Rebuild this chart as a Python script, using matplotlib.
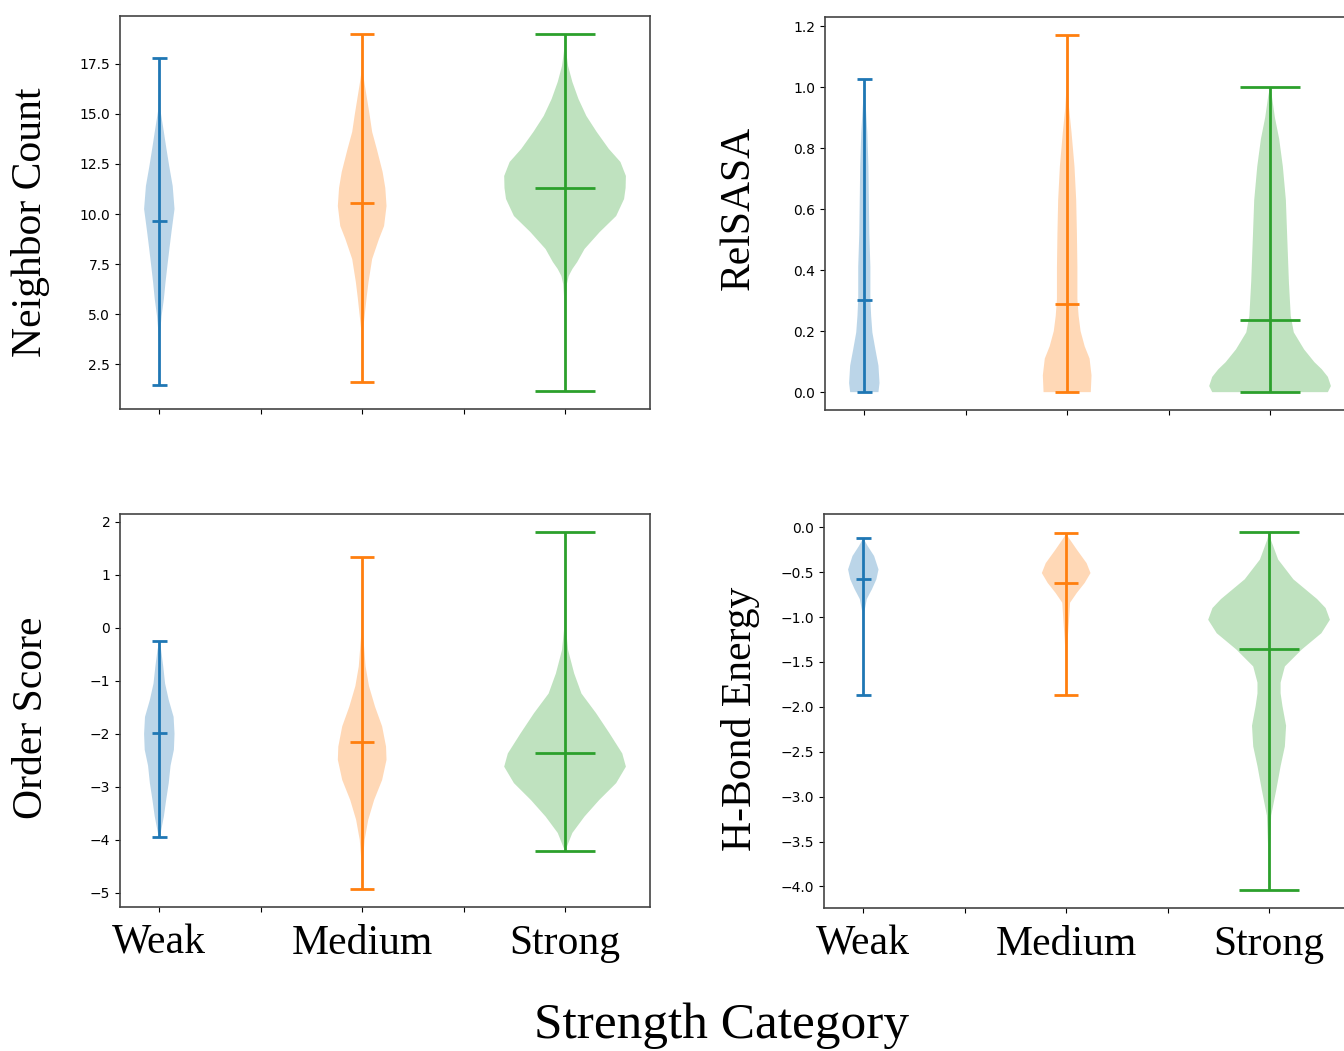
import matplotlib
matplotlib.use('Agg')
import matplotlib.pyplot as plt
import numpy as np

# data
categories = ['Weak', 'Medium', 'Strong']
positions = [1, 2, 3]
widths = [0.15, 0.24, 0.6]
colors = ['#1f77b4', '#ff7f0e', '#2ca02c']

# Neighbor Count
nc_min = [1.45, 1.62, 1.15]
nc_max = [17.8, 19.0, 19.0]
nc_mean = [9.63, 10.53, 11.32]
nc_weak_y = [1.45, 2.5, 3.5, 4.1, 4.9, 5.75, 6.6, 7.4, 8.3, 9.1, 10.25, 11.4, 12.4, 13.3, 14.1, 15.25, 16.5, 17.8]
nc_weak_w = [0, 0.005, 0.02, 0.06, 0.15, 0.3, 0.41, 0.53, 0.67, 0.8, 1.0, 0.88, 0.65, 0.46, 0.3, 0.06, 0.01, 0]
nc_med_y = [1.62, 3.0, 4.1, 4.9, 5.8, 6.6, 7.75, 8.75, 9.4, 10.4, 11.3, 12.1, 13.25, 14.1, 15.0, 15.75, 16.5, 17.1, 18.2, 19.0]
nc_med_w = [0, 0.01, 0.03, 0.1, 0.18, 0.26, 0.41, 0.69, 0.9, 1.0, 0.95, 0.84, 0.6, 0.41, 0.3, 0.2, 0.1, 0.03, 0.005, 0]
nc_str_y = [1.15, 3.0, 4.5, 5.75, 6.5, 6.9, 7.25, 7.6, 8.25, 9.1, 9.9, 10.75, 11.3, 11.9, 12.6, 13.25, 14.1, 14.9, 15.75, 16.6, 17.4, 18.3, 19.0]
nc_str_w = [0, 0.003, 0.007, 0.014, 0.03, 0.06, 0.12, 0.2, 0.32, 0.57, 0.84, 0.97, 0.995, 1.0, 0.91, 0.72, 0.52, 0.35, 0.22, 0.12, 0.05, 0.01, 0]

# RelSASA
rs_min = [0.0, 0.0, 0.0]
rs_max = [1.027, 1.171, 1.0]
rs_mean = [0.302, 0.289, 0.2375]
rs_weak_y = [0, 0.03, 0.087, 0.14, 0.196, 0.25, 0.305, 0.41, 0.52, 0.63, 0.74, 0.85, 0.96, 1.027]
rs_weak_w = [0.93, 1.0, 0.93, 0.73, 0.53, 0.45, 0.4, 0.4, 0.33, 0.3, 0.27, 0.2, 0.07, 0.0]
rs_med_y = [0, 0.055, 0.11, 0.15, 0.2, 0.25, 0.305, 0.41, 0.52, 0.63, 0.74, 0.85, 0.93, 1.01, 1.171]
rs_med_w = [0.97, 1.0, 0.92, 0.72, 0.55, 0.47, 0.42, 0.42, 0.4, 0.37, 0.3, 0.18, 0.08, 0.02, 0.0]
rs_str_y = [0, 0.02, 0.05, 0.075, 0.098, 0.14, 0.196, 0.25, 0.36, 0.52, 0.63, 0.74, 0.83, 0.9, 0.97, 1.0]
rs_str_w = [0.95, 1.0, 0.95, 0.85, 0.73, 0.56, 0.39, 0.34, 0.31, 0.28, 0.26, 0.21, 0.15, 0.08, 0.03, 0.0]

# Order Score
os_min = [-3.94, -4.93, -4.21]
os_max = [-0.245, 1.33, 1.81]
os_mean = [-1.99, -2.15, -2.37]
os_weak_y = [-3.94, -3.87, -3.56, -3.25, -2.93, -2.6, -2.3, -2.0, -1.68, -1.36, -1.05, -0.73, -0.42, -0.245]
os_weak_w = [0, 0.09, 0.3, 0.45, 0.62, 0.74, 0.96, 1.0, 0.94, 0.62, 0.38, 0.26, 0.12, 0]
os_med_y = [-4.93, -4.38, -4.0, -3.62, -3.25, -2.87, -2.49, -2.24, -1.86, -1.49, -1.1, -0.73, -0.1, 0.5, 1.33]
os_med_w = [0, 0.035, 0.1, 0.25, 0.49, 0.82, 1.0, 0.98, 0.82, 0.53, 0.28, 0.14, 0.035, 0.01, 0]
os_str_y = [-4.21, -4.13, -3.87, -3.56, -3.25, -2.93, -2.62, -2.37, -1.99, -1.61, -1.24, -0.86, -0.42, 0.0, 0.8, 1.81]
os_str_w = [0, 0.03, 0.12, 0.32, 0.56, 0.84, 1.0, 0.94, 0.73, 0.51, 0.27, 0.15, 0.05, 0.014, 0.005, 0]

# H-Bond Energy
hb_min = [-1.868, -1.87, -4.04]
hb_max = [-0.122, -0.059, -0.052]
hb_mean = [-0.571, -0.623, -1.36]
hb_weak_y = [-1.868, -1.5, -1.18, -0.95, -0.8, -0.69, -0.58, -0.47, -0.32, -0.21, -0.122]
hb_weak_w = [0, 0.01, 0.03, 0.06, 0.23, 0.57, 0.86, 1.0, 0.71, 0.29, 0]
hb_med_y = [-1.87, -1.47, -1.25, -1.06, -0.84, -0.73, -0.62, -0.51, -0.4, -0.25, -0.1, -0.059]
hb_med_w = [0, 0.02, 0.06, 0.11, 0.16, 0.44, 0.76, 1.0, 0.84, 0.44, 0.06, 0]
hb_str_y = [-4.04, -3.58, -3.21, -2.92, -2.66, -2.44, -2.21, -1.99, -1.85, -1.73, -1.55, -1.36, -1.18, -1.03, -0.9, -0.8, -0.58, -0.36, -0.14, -0.052]
hb_str_w = [0, 0.014, 0.035, 0.12, 0.19, 0.26, 0.28, 0.22, 0.19, 0.19, 0.26, 0.54, 0.86, 1.0, 0.93, 0.79, 0.4, 0.15, 0.03, 0]

panels = [
    ('Neighbor Count', nc_min, nc_max, nc_mean,
     [(nc_weak_y, nc_weak_w), (nc_med_y, nc_med_w), (nc_str_y, nc_str_w)]),
    ('RelSASA', rs_min, rs_max, rs_mean,
     [(rs_weak_y, rs_weak_w), (rs_med_y, rs_med_w), (rs_str_y, rs_str_w)]),
    ('Order Score', os_min, os_max, os_mean,
     [(os_weak_y, os_weak_w), (os_med_y, os_med_w), (os_str_y, os_str_w)]),
    ('H-Bond Energy', hb_min, hb_max, hb_mean,
     [(hb_weak_y, hb_weak_w), (hb_med_y, hb_med_w), (hb_str_y, hb_str_w)]),
]

# axes boxes in figure fractions (left, bottom, width, height)
W, H = 1344, 1051
boxes = [
    (120 / W, 1 - 409 / H, 530 / W, 393 / H),
    (825 / W, 1 - 410 / H, 530 / W, 393 / H),
    (120 / W, 1 - 907 / H, 530 / W, 393 / H),
    (824 / W, 1 - 908 / H, 530 / W, 394 / H),
]
label_xy = [(-0.168, 0.476), (-0.163, 0.514), (-0.166, 0.481), (-0.157, 0.48)]

serif = 'Liberation Serif'

fig = plt.figure(figsize=(W / 100, H / 100), dpi=100)

for i, (name, mins, maxs, means, shapes) in enumerate(panels):
    ax = fig.add_axes(boxes[i])
    for j in range(3):
        stats = [{
            'coords': np.array(shapes[j][0]),
            'vals': np.array(shapes[j][1]),
            'mean': means[j],
            'median': means[j],
            'min': mins[j],
            'max': maxs[j],
        }]
        parts = ax.violin(stats, positions=[positions[j]], widths=[widths[j]],
                          showmeans=True, showextrema=True)
        for body in parts['bodies']:
            body.set_facecolor(colors[j])
            body.set_edgecolor('none')
            body.set_alpha(0.3)
        for key in ['cmeans', 'cmins', 'cmaxes', 'cbars']:
            parts[key].set_color(colors[j])
            parts[key].set_linewidth(2)

    ax.set_xticks([1, 1.5, 2, 2.5, 3])
    if i >= 2:
        ax.set_xticklabels(['Weak', '', 'Medium', '', 'Strong'],
                           fontsize=30, family=serif)
        ax.tick_params(axis='x', pad=9)
    else:
        ax.set_xticklabels([])
    ax.tick_params(axis='y', labelsize=10)
    for sp in ax.spines.values():
        sp.set_color('#444444')
        sp.set_linewidth(1.2)
    ax.set_ylabel(name, fontsize=30, family=serif, va='center')
    ax.yaxis.set_label_coords(*label_xy[i])

fig.text(722 / W, 1 - 1038 / H, 'Strength Category', fontsize=37,
         family=serif, ha='center', va='baseline')

plt.savefig('out.png', dpi=100)
